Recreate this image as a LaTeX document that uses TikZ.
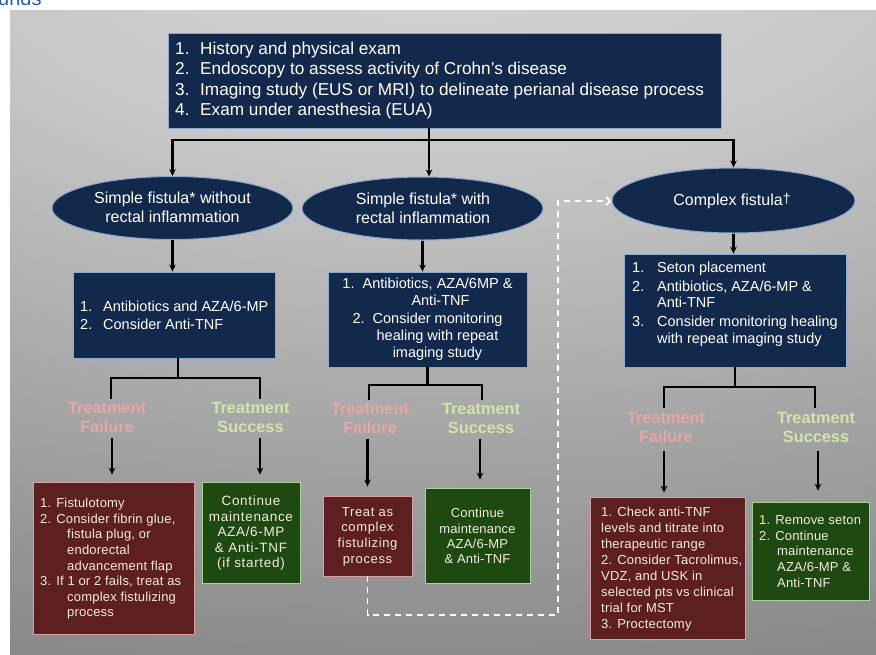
\documentclass[tikz,border=0pt]{standalone}
\usepackage{fontspec}
\setmainfont{Liberation Sans}
\newfontfamily\spaced[LetterSpace=1.5]{Liberation Sans}
\newfontfamily\spacedw[LetterSpace=5]{Liberation Sans}
\usetikzlibrary{arrows.meta,calc,shapes.geometric}

\definecolor{navy}{HTML}{13294B}
\definecolor{navyedge}{HTML}{8CAAD0}
\definecolor{maroonfill}{HTML}{5E1F20}
\definecolor{maroonedge}{HTML}{D9A0A0}
\definecolor{forest}{HTML}{1E4A12}
\definecolor{forestedge}{HTML}{A8D098}
\definecolor{cream}{HTML}{F4EADF}
\definecolor{failc}{HTML}{E8A6A6}
\definecolor{succc}{HTML}{CFE6A6}
\definecolor{labshadow}{HTML}{6A6A6A}
\definecolor{linkblue}{HTML}{1F5FAE}
\definecolor{bgA}{HTML}{D6D6D6}
\definecolor{bgB}{HTML}{C8C8C8}
\definecolor{bgC}{HTML}{A0A0A0}
\definecolor{bgD}{HTML}{7A7A7A}
\definecolor{bgE}{HTML}{5C5C5C}
\definecolor{bgF}{HTML}{464646}
\definecolor{bgG}{HTML}{3C3C3C}

\pgfdeclareradialshading{panelshade}{\pgfpoint{0bp}{33bp}}{%
  color(0bp)=(bgA); color(15bp)=(bgB); color(35bp)=(bgC); color(55bp)=(bgD);
  color(75bp)=(bgE); color(100bp)=(bgF); color(120bp)=(bgG)}

\newcommand{\li}[2][25pt]{\makebox[#1][l]{#2}}

\tikzset{
  navybox/.style={rectangle, fill=navy, draw=navyedge, line width=0.8pt, inner sep=0pt},
  navyell/.style={ellipse, fill=navy, draw=navyedge, line width=1pt, inner sep=0pt},
  redbox/.style={rectangle, fill=maroonfill, draw=maroonedge, line width=0.8pt, inner sep=0pt},
  greenbox/.style={rectangle, fill=forest, draw=forestedge, line width=0.8pt, inner sep=0pt},
  wtext/.style={text=white, inner sep=0pt},
  ctext/.style={text=cream, inner sep=0pt},
  faillab/.style={text=failc, inner sep=0pt, align=center, font=\fontsize{16.3}{19}\selectfont\bfseries},
  succlab/.style={text=succc, inner sep=0pt, align=center, font=\fontsize{16.3}{19}\selectfont\bfseries},
  conn/.style={draw=black, line width=2.2pt},
  arr/.style={draw=black, line width=2.2pt, -{Stealth[length=7pt,width=6.5pt]}},
  dashline/.style={draw=white, line width=1.8pt, dash pattern=on 6pt off 5pt, -{Straight Barb[length=4pt,width=8pt]}}
}

\begin{document}
\begin{tikzpicture}[x=1pt,y=-1pt]
\useasboundingbox (0,0) rectangle (876,654);
\fill[white] (0,0) rectangle (876,654);
\begin{scope}
  \clip (10,10) rectangle (876,654);
  \shade[shading=panelshade] (-300,10) rectangle (1186,654);
\end{scope}

\node[anchor=base west, text=linkblue, inner sep=0pt, font=\fontsize{20}{20}\selectfont] (hdr) at (-2,5) {unds};

% top box
\node[navybox, minimum width=553pt, minimum height=95pt] (top) at (444.5,80.5) {};
\node[wtext, anchor=west, align=left, font=\fontsize{17.2}{20.5}\selectfont] (topt) at (175,80.5)
 {\li{1.}History and physical exam\\
  \li{2.}Endoscopy to assess activity of Crohn’s disease\\
  \li{3.}Imaging study (EUS or MRI) to delineate perianal disease process\\
  \li{4.}Exam under anesthesia (EUA)};

% ellipses
\node[navyell, minimum width=241pt, minimum height=63pt] (E1) at (172.5,208) {};
\node[wtext, align=center, font=\fontsize{16}{19}\selectfont] (E1t) at (172.5,207.5)
 {Simple fistula* without\\rectal inflammation};
\node[navyell, minimum width=241pt, minimum height=63pt] (E2) at (422.5,208.5) {};
\node[wtext, align=center, font=\fontsize{16}{19}\selectfont] (E2t) at (423,208.5)
 {Simple fistula* with\\rectal inflammation};
\node[navyell, minimum width=243pt, minimum height=65pt] (E3) at (733.5,200.5) {};
\node[wtext, font=\fontsize{16}{19}\selectfont] (E3t) at (732,201)
 {Complex fistula\raisebox{2.5pt}{\fontsize{14}{14}\selectfont †}};

% blue boxes
\node[navybox, minimum width=202pt, minimum height=86pt] (B1) at (174,315) {};
\node[wtext, anchor=west, align=left, font=\fontsize{14.5}{17.5}\selectfont] (B1t) at (80,315.5)
 {\li[23pt]{1.}Antibiotics and AZA/6-MP\\
  \li[23pt]{2.}Consider Anti-TNF};
\node[navybox, minimum width=199pt, minimum height=95pt] (B2) at (427.5,319.5) {};
\node[wtext, align=center, font=\fontsize{14.5}{17.3}\selectfont] (B2t) at (427.5,319.5)
 {1.\ \ Antibiotics, AZA/6MP \&\\
  \hspace*{26pt}Anti-TNF\\
  2.\ \ Consider monitoring\\
  \hspace*{20pt}healing with repeat\\
  \hspace*{20pt}imaging study};
\node[navybox, minimum width=222pt, minimum height=113pt] (B3) at (735,310.5) {};
\node[wtext, anchor=west, align=left, font=\fontsize{14.5}{16.5}\selectfont] (B3t) at (632,304)
 {\li{1.}Seton placement\\[2.5pt]
  \li{2.}Antibiotics, AZA/6-MP \&\\
  \li{}Anti-TNF\\[2.5pt]
  \li{3.}Consider monitoring healing\\
  \li{}with repeat imaging study};

% treatment labels
\node[faillab] (F1) at (107,417.5) {Treatment\\Failure};
\node[succlab] (S1) at (250.5,417.5) {Treatment\\Success};
\node[faillab] (F2) at (370,418.3) {Treatment\\Failure};
\node[succlab] (S2) at (481,418.3) {Treatment\\Success};
\node[faillab] (F3) at (666,427.8) {Treatment\\Failure};
\node[succlab] (S3) at (816,427.8) {Treatment\\Success};

% outcome boxes
\node[redbox, minimum width=161pt, minimum height=152pt] (R1) at (113.5,558) {};
\node[ctext, anchor=west, align=left, font=\spaced\fontsize{13}{15.6}\selectfont] (R1t) at (40,559)
 {1. Fistulotomy\\
  2. Consider fibrin glue,\\
  \hspace*{27pt}fistula plug, or\\
  \hspace*{27pt}endorectal\\
  \hspace*{27pt}advancement flap\\
  3. If 1 or 2 fails, treat as\\
  \hspace*{27pt}complex fistulizing\\
  \hspace*{27pt}process};
\node[greenbox, minimum width=98pt, minimum height=101pt] (G1) at (251,532.5) {};
\node[ctext, align=center, font=\spacedw\fontsize{13.5}{15.5}\selectfont] (G1t) at (251,533)
 {Continue\\maintenance\\AZA/6-MP\\\& Anti-TNF\\(if started)};
\node[redbox, minimum width=89pt, minimum height=80pt] (R2) at (367.5,536) {};
\node[ctext, align=center, font=\spacedw\fontsize{13}{15.6}\selectfont] (R2t) at (367.5,536.5)
 {Treat as\\complex\\fistulizing\\process};
\node[greenbox, minimum width=105pt, minimum height=95pt] (G2) at (477.5,535.5) {};
\node[ctext, align=center, font=\spaced\fontsize{13}{15.3}\selectfont] (G2t) at (477.5,536)
 {Continue\\maintenance\\AZA/6-MP\\\& Anti-TNF};
\node[redbox, minimum width=155pt, minimum height=142pt] (R3) at (667.5,568) {};
\node[ctext, anchor=west, align=left, font=\spaced\fontsize{13}{16}\selectfont] (R3t) at (601,569)
 {1. Check anti-TNF\\
  levels and titrate into\\
  therapeutic range\\
  2. Consider Tacrolimus,\\
  VDZ, and USK in\\
  selected pts vs clinical\\
  trial for MST\\
  3. Proctectomy};
\node[greenbox, minimum width=117pt, minimum height=98pt] (G3) at (810.5,551) {};
\node[ctext, anchor=west, align=left, font=\spaced\fontsize{13}{15.75}\selectfont] (G3t) at (759,551.5)
 {1. Remove seton\\
  2. Continue\\
  \hspace*{18pt}maintenance\\
  \hspace*{18pt}AZA/6-MP \&\\
  \hspace*{18pt}Anti-TNF};

% connectors from top box
\coordinate (j0) at (429,140);
\draw[conn] (top.south -| j0) -- (j0);
\draw[arr] (j0) -| (E1.north);
\draw[arr] (j0) -- (j0 |- E2.north);
\draw[arr] (j0) -| (E3.north);

% ellipses to blue boxes
\draw[arr] (E1.south) -- (E1.south |- B1.north);
\draw[arr] (E2.south) -- (E2.south |- B2.north);
\draw[arr] (E3.south) -- (E3.south |- B3.north);

% branches
\coordinate (k1) at (178,378);
\draw[conn, shorten >=3pt] (B1.south -| k1) -- (k1) -| ([xshift=4pt]F1.north);
\draw[conn, shorten >=3pt] (k1) -| ([xshift=9.5pt]S1.north);
\coordinate (k2) at (427.5,385);
\draw[conn, shorten >=3pt] (B2.south) -- (k2) -| ([xshift=-1pt]F2.north);
\draw[conn, shorten >=3pt] (k2) -| ([xshift=1pt]S2.north);
\coordinate (k3) at (735,387);
\draw[conn, shorten >=4pt] (B3.south) -- (k3) -| ([xshift=-2pt]F3.north);
\draw[conn, shorten >=4pt] (k3) -| ([xshift=-1pt]S3.north);

% label arrows
\draw[arr, shorten <=5pt, shorten >=7pt] ([xshift=5pt]F1.south) -- ([xshift=5pt]F1.south |- R1.north);
\draw[arr, shorten <=5pt, shorten >=7pt] ([xshift=9.5pt]S1.south) -- ([xshift=9.5pt]S1.south |- G1.north);
\draw[arr, shorten <=5pt, shorten >=9pt] ([xshift=-2.5pt]F2.south) -- ([xshift=-2.5pt]F2.south |- R2.north);
\draw[arr, shorten <=5pt, shorten >=8pt] ([xshift=-1pt]S2.south) -- ([xshift=-1pt]S2.south |- G2.north);
\draw[arr, shorten <=8pt, shorten >=4pt] ([xshift=-2pt]F3.south) -- ([xshift=-2pt]F3.south |- R3.north);
\draw[arr, shorten <=8pt, shorten >=11pt] ([xshift=2pt]S3.south) -- ([xshift=2pt]S3.south |- G3.north);

% dashed return path
\coordinate (dc1) at (558,615);
\coordinate (dc2) at (558,201);
\draw[dashline] (R2.south) |- (dc1) -- (dc2) -- (dc2 -| E3.west);
\end{tikzpicture}
\end{document}
